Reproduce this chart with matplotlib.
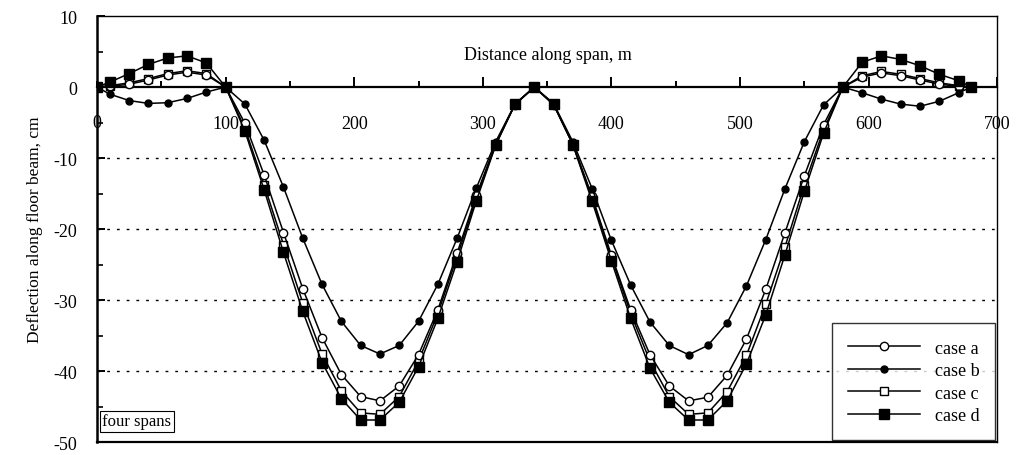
import numpy as np
import matplotlib
matplotlib.use("Agg")
import matplotlib.pyplot as plt
from matplotlib.ticker import MultipleLocator

# distancia a lo largo del vano (m)
x_dist = [0, 10, 25, 40, 55, 70, 85, 100,
          115, 130, 145, 160, 175, 190, 205, 220, 235, 250, 265, 280, 295, 310, 325,
          340,
          355, 370, 385, 400, 415, 430, 445, 460, 475, 490, 505, 520, 535, 550, 565,
          580, 595, 610, 625, 640, 655, 670, 680]

case_a = [0, 0.1, 0.4, 1.0, 1.7, 2.1, 1.7, 0,
          -5.1, -12.4, -20.5, -28.4, -35.3, -40.5, -43.6, -44.2, -42.1, -37.7, -31.4, -23.4, -15.2, -8.0, -2.5,
          0,
          -2.5, -8.0, -15.4, -23.7, -31.4, -37.7, -42.1, -44.2, -43.7, -40.6, -35.5, -28.5, -20.5, -12.5, -5.3,
          0, 1.4, 2.0, 1.6, 1.0, 0.4, 0.1, 0]

case_b = [0, -1.0, -1.9, -2.3, -2.2, -1.6, -0.7, 0,
          -2.4, -7.5, -14.1, -21.3, -27.8, -33.0, -36.4, -37.6, -36.4, -33.0, -27.8, -21.3, -14.2, -7.7, -2.4,
          0,
          -2.3, -7.7, -14.3, -21.6, -27.9, -33.1, -36.4, -37.7, -36.4, -33.2, -28.0, -21.5, -14.3, -7.7, -2.5,
          0, -0.8, -1.7, -2.4, -2.7, -2.0, -0.8, 0]

case_c = [0, 0.2, 0.6, 1.2, 1.9, 2.3, 1.9, 0,
          -5.8, -13.8, -22.2, -30.4, -37.6, -42.8, -45.9, -46.1, -43.6, -38.6, -31.9, -23.9, -15.6, -8.1, -2.4,
          0,
          -2.4, -8.1, -15.7, -24.0, -31.9, -38.6, -43.6, -46.1, -45.9, -42.9, -37.8, -30.6, -22.5, -13.8, -6.0,
          0, 1.6, 2.2, 1.8, 1.2, 0.6, 0.2, 0]

case_d = [0, 0.7, 1.9, 3.2, 4.1, 4.4, 3.4, 0,
          -6.2, -14.5, -23.3, -31.6, -38.8, -43.9, -46.9, -46.9, -44.4, -39.4, -32.6, -24.6, -16.0, -8.2, -2.4,
          0,
          -2.4, -8.1, -16.1, -24.5, -32.6, -39.6, -44.4, -46.9, -46.9, -44.2, -39.0, -32.1, -23.6, -14.7, -6.5,
          0, 3.5, 4.4, 3.9, 3.0, 1.8, 0.9, 0]

plt.rcParams['font.family'] = ['Liberation Serif', 'DejaVu Serif']
plt.rcParams['axes.unicode_minus'] = False

fig = plt.figure(figsize=(10.16, 4.56), dpi=100)
ax = fig.add_axes([0.0955, 0.0285, 0.886, 0.934])

# lineas de division punteadas
for yv in [-10, -20, -30, -40]:
    ax.axhline(yv, color="black", lw=1.0, linestyle=(0, (2, 5)), zorder=1)

ax.plot(x_dist, case_c, color="black", lw=1.1, marker="s", ms=6, mfc="white", mec="black", label="case c", zorder=3)
ax.plot(x_dist, case_a, color="black", lw=1.1, marker="o", ms=6, mfc="white", mec="black", label="case a", zorder=4)
ax.plot(x_dist, case_b, color="black", lw=1.1, marker="o", ms=5, mfc="black", mec="black", label="case b", zorder=5)
ax.plot(x_dist, case_d, color="black", lw=1.1, marker="s", ms=7, mfc="black", mec="black", label="case d", zorder=6)

ax.set_xlim(0, 700)
ax.set_ylim(-50, 10)

# eje x en y=0
ax.spines['bottom'].set_position(('data', 0))
ax.spines['bottom'].set_linewidth(1.6)
ax.spines['left'].set_linewidth(1.8)
ax.spines['top'].set_linewidth(1.0)
ax.spines['right'].set_linewidth(1.0)
ax.axhline(-50, color="black", lw=1.6, clip_on=False, zorder=2)

ax.xaxis.set_major_locator(MultipleLocator(100))
ax.xaxis.set_minor_locator(MultipleLocator(50))
ax.yaxis.set_major_locator(MultipleLocator(10))
ax.yaxis.set_minor_locator(MultipleLocator(5))
ax.tick_params(axis="x", which="major", direction="in", length=7, width=1.4, labelsize=13, pad=20)
ax.tick_params(axis="x", which="minor", direction="in", length=4, width=1.4)
ax.tick_params(axis="y", which="major", direction="in", length=6, width=1.4, labelsize=13, pad=14)
ax.tick_params(axis="y", which="minor", direction="in", length=4, width=1.2)
ax.set_xticks([100, 200, 300, 400, 500, 600, 700])
ax.text(0, -3.8, "0", ha="center", va="top", fontsize=13)

ax.set_ylabel("Deflection along floor beam, cm", fontsize=12.5, labelpad=8)
ax.text(0.501, 0.911, "Distance along span, m", transform=ax.transAxes, ha="center", va="center", fontsize=13)

ax.text(0.006, 0.03, "four spans", transform=ax.transAxes, ha="left", va="bottom", fontsize=12,
        bbox=dict(boxstyle="square,pad=0.15", fc="white", ec="black", lw=0.8))

h, l = ax.get_legend_handles_labels()
orden = [1, 2, 0, 3]
leg = ax.legend([h[i] for i in orden], [l[i] for i in orden], loc="lower right", fontsize=13,
                handlelength=4.0, frameon=True, fancybox=False, edgecolor="black",
                borderaxespad=0.1, labelspacing=0.3, borderpad=0.9)
leg.get_frame().set_linewidth(1.0)

fig.savefig("out.png", dpi=100)
